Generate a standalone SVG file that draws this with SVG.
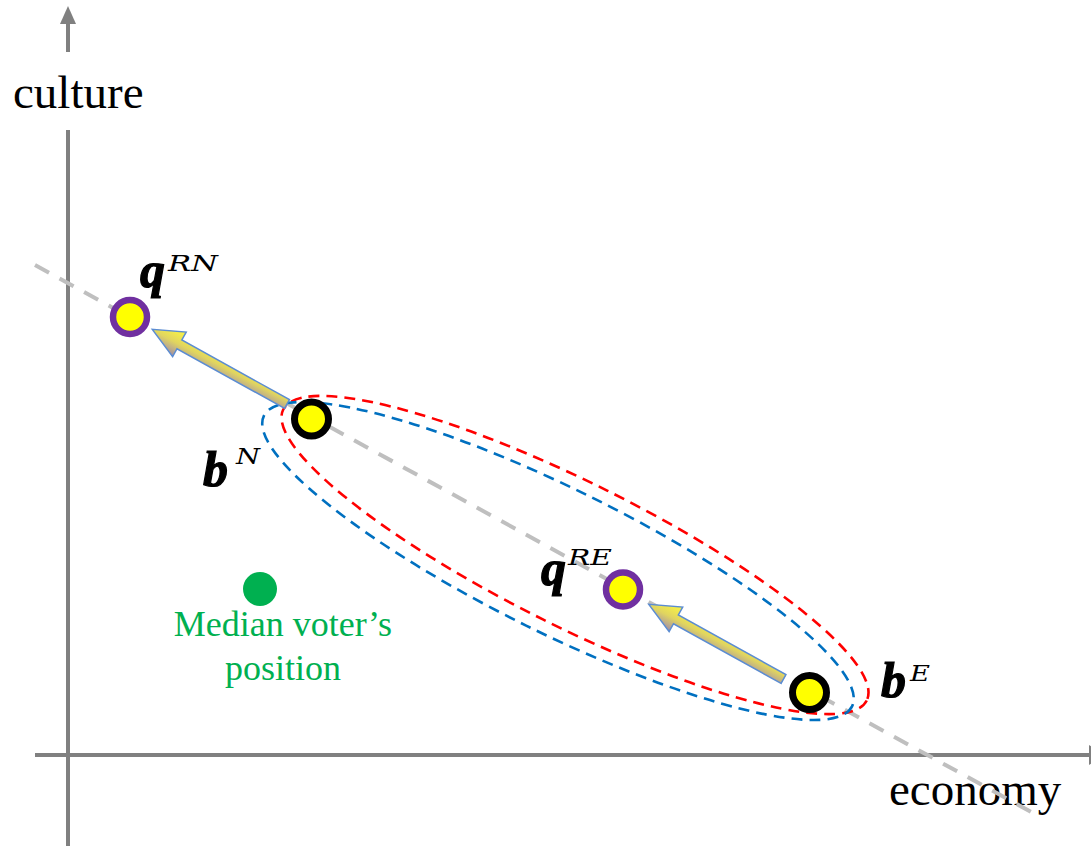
<svg xmlns="http://www.w3.org/2000/svg" width="1091" height="846" viewBox="0 0 1091 846">
<style>
.axis{stroke:#808080;stroke-width:4;fill:none}
.axlab{font-family:"Liberation Serif",serif;font-size:47px;fill:#000}
.trend{stroke:#BFBFBF;stroke-width:4;stroke-dasharray:16 12;fill:none}
.ell{fill:none;stroke-width:2.6;stroke-dasharray:11 7}
.qpt{fill:#FFFF00;stroke:#7030A0;stroke-width:6.5}
.bpt{fill:#FFFF00;stroke:#000;stroke-width:7}
.mv{font-family:"Liberation Serif",serif;font-size:36px;fill:#00B050;text-anchor:middle}
.big{font-family:"Liberation Serif",serif;font-weight:bold;font-style:italic;font-size:50px;fill:#000;stroke:#000;stroke-width:1.2}
.sup{font-family:"DejaVu Serif",serif;font-style:italic;font-size:23px;fill:#000}
.arr{stroke:#5B8CD2;stroke-width:1.5;fill:url(#ag)}
</style>
<defs>
<linearGradient id="ag" x1="0" y1="0" x2="0.15" y2="1">
<stop offset="0" stop-color="#8A78B2"/>
<stop offset="0.35" stop-color="#BFAE88"/>
<stop offset="0.6" stop-color="#E0D460"/>
<stop offset="1" stop-color="#F5EF48"/>
</linearGradient>
</defs>
<rect width="1091" height="846" fill="#fff"/>
<g id="axes">
<line class="axis" x1="68" y1="846" x2="68" y2="130"/>
<line class="axis" x1="68" y1="52" x2="68" y2="20"/>
<polygon points="68,6 60,24 76,24" fill="#808080"/>
<line class="axis" x1="35" y1="755" x2="1091" y2="755"/>
<polygon points="1089,745 1105,755 1089,765" fill="#808080"/>
<text class="axlab" x="13" y="108">culture</text>
<text class="axlab" x="889" y="805">economy</text>
</g>
<g id="connectors">
<line class="trend" x1="35" y1="265" x2="1033" y2="813"/>
<ellipse id="red-ellipse" class="ell" stroke="#FF0000" cx="575" cy="555" rx="326" ry="72" transform="rotate(26.5 575 555)"/>
<ellipse id="blue-ellipse" class="ell" stroke="#0070C0" cx="558" cy="561" rx="328" ry="72" transform="rotate(26.3 558 561)"/>
<polygon class="arr" transform="translate(287 404) rotate(-151)" points="0,-5 123,-5 123,-14 154,0 123,14 123,5 0,5"/>
<polygon class="arr" transform="translate(783.5 679) rotate(-151)" points="0,-5 123,-5 123,-14 154,0 123,14 123,5 0,5"/>
</g>
<g id="median">
<circle cx="260" cy="589" r="17" fill="#00B050"/>
<text class="mv" x="283" y="636">Median voter’s</text>
<text class="mv" x="283" y="680">position</text>
</g>
<g id="qRN">
<circle class="qpt" cx="130" cy="317" r="17"/>
<text class="big" x="140" y="287">q</text>
<text class="sup" x="168" y="271" textLength="50" lengthAdjust="spacingAndGlyphs">RN</text>
</g>
<g id="bN">
<circle class="bpt" cx="311.5" cy="419" r="17"/>
<text class="big" x="203" y="486">b</text>
<text class="sup" x="236" y="464" textLength="24" lengthAdjust="spacingAndGlyphs">N</text>
</g>
<g id="qRE">
<circle class="qpt" cx="623" cy="589.5" r="17"/>
<text class="big" x="541" y="585">q</text>
<text class="sup" x="568" y="565" textLength="44" lengthAdjust="spacingAndGlyphs">RE</text>
</g>
<g id="bE">
<circle class="bpt" cx="809.5" cy="692.5" r="17"/>
<text class="big" x="881" y="697">b</text>
<text class="sup" x="910" y="681" textLength="20" lengthAdjust="spacingAndGlyphs">E</text>
</g>
</svg>
